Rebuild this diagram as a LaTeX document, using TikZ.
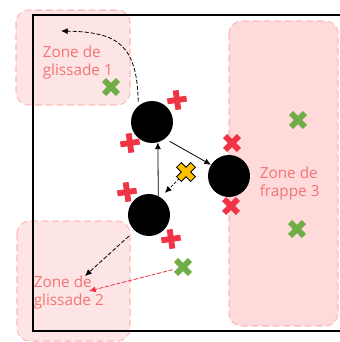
\documentclass[tikz,border=0pt]{standalone}
\usepackage{fontspec}
\setmainfont{Open Sans}
\usetikzlibrary{arrows.meta}
\definecolor{zonefill}{RGB}{253,229,229}
\definecolor{zonefillB}{RGB}{255,218,218}
\definecolor{zoneedge}{RGB}{255,184,184}
\definecolor{zonetext}{RGB}{245,115,115}
\definecolor{defred}{RGB}{240,52,70}
\definecolor{freegreen}{RGB}{112,173,71}
\definecolor{ballyellow}{RGB}{255,192,0}
\begin{document}
\begin{tikzpicture}[x=0.75pt,y=-0.75pt,
  zone/.style={draw=zoneedge, dash pattern=on 5pt off 3pt, line width=0.8pt, rounded corners=9.5pt},
  player/.style={circle, fill=black, minimum size=31.5pt, inner sep=0pt},
  zonelabel/.style={text=zonetext, font=\fontsize{11.5}{13.5}\selectfont, align=left, inner sep=0pt, anchor=north west},
  pass/.style={-{Latex[length=5pt,width=4.5pt]}, line width=0.6pt},
  runline/.style={dash pattern=on 3pt off 1.5pt},
  shortrun/.style={dash pattern=on 2pt off 1.5pt},
  pics/crossmark/.style={code={
    \draw[line width=4.4pt, #1] (-7.3pt,0pt) -- (7.3pt,0pt) (0pt,-7.3pt) -- (0pt,7.3pt);}},
  pics/ballmark/.style={code={
    \draw[line width=5.6pt, black] (-7.8pt,0pt) -- (7.8pt,0pt) (0pt,-7.8pt) -- (0pt,7.8pt);
    \draw[line width=4.1pt, ballyellow] (-7.1pt,0pt) -- (7.1pt,0pt) (0pt,-7.1pt) -- (0pt,7.1pt);}},
]
\useasboundingbox (0,0) rectangle (339,342);

% zones
\draw[zone, fill=zonefill] (16,10) rectangle (130,105);
\draw[zone, fill=zonefill] (17,221) rectangle (130,341);
\draw[zone, fill=zonefillB] (229,21) rectangle (338,326);

% field outline
\draw[line width=1pt] (345,15) -- (33,15) -- (33,331) -- (345,331);

% zone labels
\node[zonelabel] (l1) at (42.5,45.5) {Zone de\\glissade 1};
\node[zonelabel] (l2) at (33.5,276) {Zone de\\glissade 2};
\node[zonelabel] (l3) at (259.5,167) {Zone de\\frappe 3};

% players
\node[player] (p1) at (152,122) {};
\node[player] (p2) at (229,176) {};
\node[player] (p3) at (149,215) {};

% marks
\coordinate (ball) at (186,172);
\coordinate (g1) at (111,87);
\coordinate (g2) at (298,120);
\coordinate (g3) at (297,229);
\coordinate (g4) at (183,267);
\coordinate (r1) at (177,100);
\coordinate (r2) at (130,143);
\coordinate (r3) at (232,143);
\coordinate (r4) at (231,206);
\coordinate (r5) at (127,192);
\coordinate (r6) at (171,239);

% arrow ends
\coordinate (t1) at (61,31);
\coordinate (t2) at (85,276);
\coordinate (t3) at (89,291);

% passes and runs
\draw[pass] (p3.64) -- (p1.-74);
\draw[pass, shorten <=4pt] (p1.-52) -- (p2.148);
\draw[pass, shortrun, shorten <=7pt, shorten >=4.5pt] (ball) -- (p3.57);
\draw[pass, runline, shorten <=6pt] (p3.-132) -- (t2);
\draw[pass, runline, draw=defred, fill=defred, shorten <=8pt] (g4) -- (t3);
\draw[pass, runline, shorten <=3pt] (p1.130) .. controls (137,45) and (118,32) .. (t1);

% defenders, free players and ball
\foreach \c in {r1,r2,r5,r6} \pic[rotate=8] at (\c) {crossmark=defred};
\foreach \c in {r3,r4} \pic[rotate=45] at (\c) {crossmark=defred};
\foreach \c in {g1,g2,g3,g4} \pic[rotate=45] at (\c) {crossmark=freegreen};
\pic[rotate=45] at (ball) {ballmark};
\end{tikzpicture}
\end{document}
